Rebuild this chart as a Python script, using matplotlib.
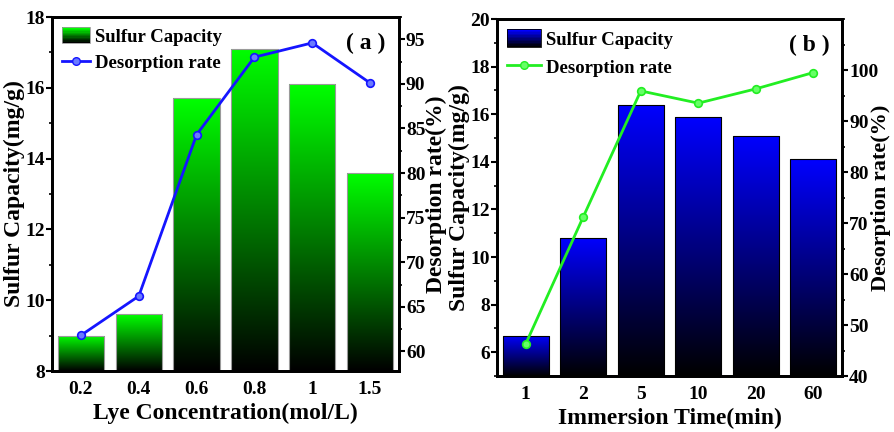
import numpy as np
import matplotlib.pyplot as plt
from matplotlib.colors import LinearSegmentedColormap
from matplotlib.patches import Rectangle
from matplotlib.lines import Line2D
from matplotlib.legend_handler import HandlerBase
from matplotlib.ticker import MultipleLocator

plt.rcParams['font.family'] = ['Liberation Serif', 'Noto Sans CJK SC']
plt.rcParams['font.weight'] = 'bold'
plt.rcParams['axes.labelweight'] = 'bold'

# Panel (a): lye concentration
lye_labels = ['0.2', '0.4', '0.6', '0.8', '1', '1.5']
lye_capacity = [9.0, 9.6, 15.7, 17.1, 16.1, 13.6]
lye_desorption = [61.8, 66.2, 84.3, 93.0, 94.6, 90.1]

# Panel (b): immersion time
time_labels = ['1', '2', '5', '10', '20', '60']
time_capacity = [6.7, 10.8, 16.4, 15.9, 15.1, 14.1]
time_desorption = [46.3, 71.2, 95.9, 93.5, 96.3, 99.5]

green_cmap = LinearSegmentedColormap.from_list('gk', ['#000000', '#00ff00'])
blue_cmap = LinearSegmentedColormap.from_list('bk', ['#000000', '#0000ff'])


class GradientPatchHandler(HandlerBase):
    """Legend key drawn as a stack of strips fading from bright to black."""

    def __init__(self, cmap, edge):
        super().__init__()
        self.cmap = cmap
        self.edge = edge

    def create_artists(self, legend, orig_handle, xdescent, ydescent,
                       width, height, fontsize, trans):
        n = 12
        arts = []
        for k in range(n):
            c = self.cmap(1 - k / (n - 1))
            r = Rectangle((-xdescent, -ydescent + height * (n - 1 - k) / n),
                          width, height / n, facecolor=c, edgecolor='none',
                          transform=trans)
            arts.append(r)
        arts.append(Rectangle((-xdescent, -ydescent), width, height,
                              facecolor='none', edgecolor=self.edge, lw=0.6,
                              transform=trans))
        return arts


def gradient_bars(ax, vals, cmap, edge, ymin):
    x = np.arange(len(vals))
    bars = ax.bar(x, vals, width=0.8, color='none', edgecolor=edge,
                  linewidth=0.8, zorder=2)
    grad = np.linspace(0, 1, 256).reshape(-1, 1)
    for b, v in zip(bars, vals):
        x0 = b.get_x()
        im = ax.imshow(grad, cmap=cmap, origin='lower', aspect='auto',
                       extent=(x0, x0 + b.get_width(), ymin, v), zorder=1)
        im.set_clip_path(b)
    return bars


def panel(rect, labels, cap, des, cmap, edge, line_color, marker_face,
          ylim_l, ylim_r, lticks, rticks, rminor, xlabel, tag,
          hlen, hheight, rpad, rsize):
    ax = fig.add_axes(rect)
    gradient_bars(ax, cap, cmap, edge, ylim_l[0])
    ax.set_xlim(-0.5, 5.5)
    ax.set_ylim(*ylim_l)
    ax.set_yticks(lticks)
    ax.yaxis.set_minor_locator(MultipleLocator(1))
    ax.set_xticks(range(len(labels)))
    ax.set_xticklabels(labels)
    ax.set_xlabel(xlabel, fontsize=17, labelpad=4)
    ax.set_ylabel('Sulfur Capacity(mg/g)', fontsize=17, labelpad=0)
    ax.tick_params(axis='both', labelsize=14, width=1.5, length=4,
                   direction='out', pad=1)
    ax.tick_params(axis='x', length=0, pad=7)
    ax.tick_params(axis='y', which='minor', length=2.5, width=1.2)

    ax2 = ax.twinx()
    ax2.plot(range(len(des)), des, color=line_color, lw=2, marker='o',
             ms=5.5, mfc=marker_face, mec=line_color, mew=1.2, zorder=3)
    ax2.set_ylim(*ylim_r)
    ax2.set_yticks(rticks)
    ax2.yaxis.set_minor_locator(MultipleLocator(rminor))
    ax2.tick_params(axis='y', labelsize=14, width=1.5, length=4,
                    direction='out', pad=1)
    ax2.tick_params(axis='y', which='minor', length=2.5, width=1.2)
    ax2.set_ylabel('Desorption rate(%)', fontsize=rsize, labelpad=rpad)
    for a in (ax, ax2):
        for s in a.spines.values():
            s.set_linewidth(2)

    handles = [Rectangle((0, 0), 1, 1),
               Line2D([], [], color=line_color, lw=2, marker='o', ms=5.5,
                      mfc=marker_face, mec=line_color)]
    ax2.legend(handles, ['Sulfur Capacity', 'Desorption rate'],
               handler_map={Rectangle: GradientPatchHandler(cmap, edge)},
               loc='upper left', frameon=False, fontsize=13.5,
               handlelength=hlen, handleheight=hheight, handletextpad=0.25,
               borderpad=0.2, borderaxespad=0.35, labelspacing=0.45)
    ax.text(0.905, 0.925, '( ' + tag + ' )', transform=ax.transAxes,
            fontsize=17, ha='center', va='center')
    return ax, ax2


fig = plt.figure(figsize=(8.94, 4.32), dpi=100)

panel([0.0582, 0.1412, 0.3881, 0.8194], lye_labels, lye_capacity,
      lye_desorption, green_cmap, '#9a9a9a', '#1515ff', '#6a7aff',
      (8, 18), (57.8, 97.5), np.arange(8, 19, 2), np.arange(60, 96, 5), 2.5,
      'Lye Concentration(mol/L)', 'a', 1.5, 0.9, 0, 17)

panel([0.5559, 0.1296, 0.3860, 0.8264], time_labels, time_capacity,
      time_desorption, blue_cmap, '#000000', '#22ee22', '#66ff66',
      (5, 20), (40, 110), np.arange(6, 21, 2), np.arange(40, 101, 10), 5,
      'Immersion Time(min)', 'b', 1.8, 1.1, -5, 16)

fig.savefig('out.png', dpi=100)
